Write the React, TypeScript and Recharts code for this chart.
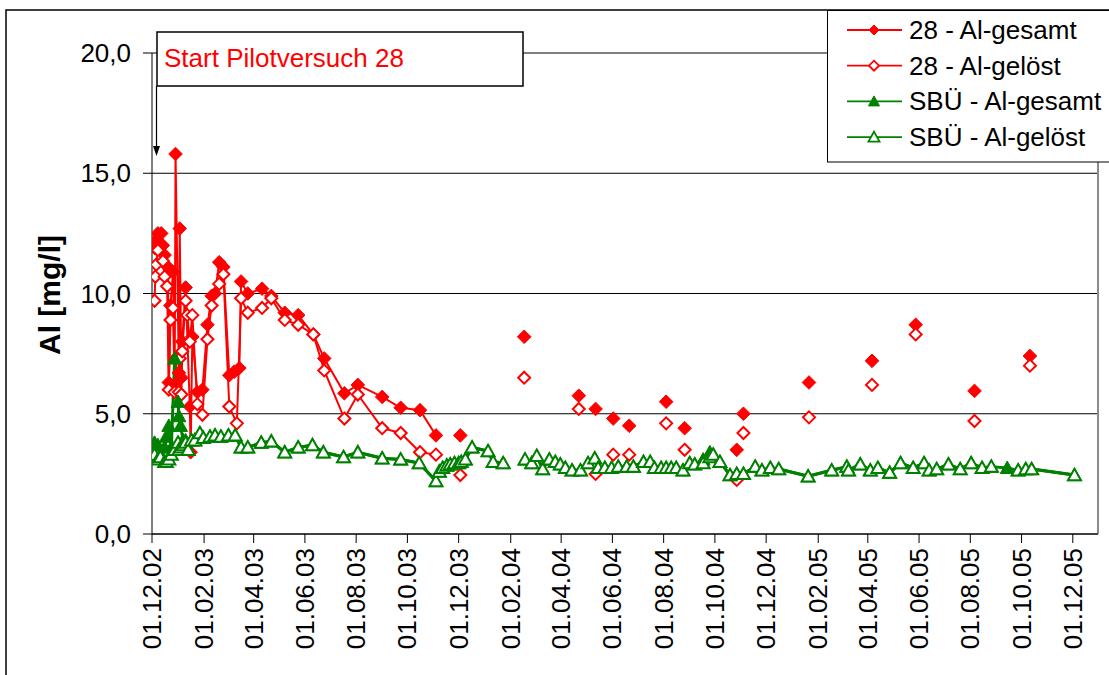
import React from 'react';
import { LineChart, Line, XAxis, YAxis, CartesianGrid, ReferenceLine } from 'recharts';

const FONT = '"Liberation Sans", Arial, Helvetica, sans-serif';
const RED = '#FF0000';
const GREEN = '#008000';

// ---------- axis ----------
const xTickLabels = [
  '01.12.02', '01.02.03', '01.04.03', '01.06.03', '01.08.03', '01.10.03', '01.12.03',
  '01.02.04', '01.04.04', '01.06.04', '01.08.04', '01.10.04', '01.12.04',
  '01.02.05', '01.04.05', '01.06.05', '01.08.05', '01.10.05', '01.12.05',
];
const xDomainLabels = ['01.12.02', '31.12.05'];
const yTicks = [0, 5, 10, 15, 20];

const seriesNames = ['28 - Al-gesamt', '28 - Al-gelöst', 'SBÜ - Al-gesamt', 'SBÜ - Al-gelöst'];
const annotationText = 'Start Pilotversuch 28';
const yAxisTitle = 'Al [mg/l]';

// ---------- 28 - Al-gesamt ----------
const r28GesamtDates = [
  '04.12.02', '05.12.02', '08.12.02', '12.12.02', '14.12.02', '16.12.02', '20.12.02', '21.12.02',
  '23.12.02', '26.12.02', '28.12.02', '29.12.02', '02.01.03', '03.01.03', '05.01.03', '06.01.03',
  '10.01.03', '15.01.03', '16.01.03', '18.01.03', '24.01.03', '30.01.03', '05.02.03', '10.02.03',
  '14.02.03', '19.02.03', '24.02.03', '03.03.03', '09.03.03', '15.03.03', '17.03.03', '25.03.03',
  '11.04.03', '22.04.03', '08.05.03', '24.05.03', '11.06.03', '24.06.03', '18.07.03', '03.08.03',
  '01.09.03', '23.09.03', '16.10.03', '04.11.03', '04.11.03', '03.12.03', '03.12.03',
  '17.02.04', '17.02.04', '22.04.04', '22.04.04', '12.05.04', '12.05.04', '02.06.04', '02.06.04',
  '21.06.04', '21.06.04', '04.08.04', '04.08.04', '26.08.04', '26.08.04', '27.10.04', '27.10.04',
  '04.11.04', '04.11.04', '21.01.05', '21.01.05', '06.04.05', '06.04.05', '28.05.05', '28.05.05',
  '06.08.05', '06.08.05', '11.10.05',
];
const r28GesamtValues: (number | null)[] = [
  11.9, 12.2, 12.5, 12.5, 12.0, 11.6, 11.1, 6.3,
  9.5, 10.9, 6.2, 15.8, 6.7, 12.7, 6.5, 8.0,
  10.25, 5.3, 3.4, 8.2, 5.9, 6.0, 8.7, 9.9,
  10.0, 11.3, 11.1, 6.6, 6.75, 6.9, 10.5, 10.0,
  10.2, 9.9, 9.2, 9.1, 8.3, 7.3, 5.85, 6.2,
  5.7, 5.25, 5.15, 4.1, null, 4.1, null,
  8.2, null, 5.75, null, 5.2, null, 4.8, null,
  4.5, null, 5.5, null, 4.4, null, 3.5, null,
  5.0, null, 6.3, null, 7.2, null, 8.7, null,
  5.95, null, 7.4,
];

// ---------- 28 - Al-gelöst ----------
const r28GeloestDates = [
  '04.12.02', '05.12.02', '06.12.02', '08.12.02', '14.12.02', '16.12.02', '19.12.02', '21.12.02',
  '23.12.02', '26.12.02', '28.12.02', '29.12.02', '02.01.03', '03.01.03', '05.01.03', '06.01.03',
  '10.01.03', '12.01.03', '15.01.03', '18.01.03', '24.01.03', '30.01.03', '05.02.03', '10.02.03',
  '19.02.03', '24.02.03', '03.03.03', '12.03.03', '17.03.03', '25.03.03', '11.04.03', '22.04.03',
  '08.05.03', '24.05.03', '11.06.03', '24.06.03', '18.07.03', '03.08.03', '01.09.03', '23.09.03',
  '16.10.03', '04.11.03', '04.11.03', '03.12.03', '03.12.03',
  '17.02.04', '17.02.04', '22.04.04', '22.04.04', '12.05.04', '12.05.04', '02.06.04', '02.06.04',
  '21.06.04', '21.06.04', '04.08.04', '04.08.04', '26.08.04', '26.08.04', '27.10.04', '27.10.04',
  '04.11.04', '04.11.04', '21.01.05', '21.01.05', '06.04.05', '06.04.05', '28.05.05', '28.05.05',
  '06.08.05', '06.08.05', '11.10.05',
];
const r28GeloestValues: (number | null)[] = [
  9.7, 10.7, 11.2, 11.8, 11.35, 10.7, 10.3, 6.0,
  8.9, 9.4, 5.9, 7.3, 5.9, 7.3, 5.8, 7.6,
  9.7, 9.1, 8.0, 9.1, 5.4, 4.96, 8.1, 9.5,
  10.4, 10.8, 5.3, 4.6, 9.8, 9.2, 9.4, 9.8,
  8.9, 8.7, 8.3, 6.8, 4.8, 5.8, 4.4, 4.2,
  3.4, 3.3, null, 2.45, null,
  6.5, null, 5.2, null, 2.5, null, 3.3, null,
  3.3, null, 4.6, null, 3.5, null, 2.25, null,
  4.2, null, 4.85, null, 6.2, null, 8.3, null,
  4.7, null, 7.0,
];

// ---------- SBÜ (shared sampling dates) ----------
const sbuDates = [
  '02.12.02', '04.12.02', '08.12.02', '11.12.02', '16.12.02', '18.12.02', '21.12.02', '24.12.02',
  '28.12.02', '01.01.03', '02.01.03', '04.01.03', '07.01.03', '10.01.03', '13.01.03', '17.01.03',
  '21.01.03', '27.01.03', '31.01.03', '08.02.03', '14.02.03', '21.02.03', '02.03.03', '10.03.03',
  '17.03.03', '25.03.03', '10.04.03', '22.04.03', '08.05.03', '24.05.03', '10.06.03', '23.06.03',
  '17.07.03', '03.08.03', '01.09.03', '23.09.03', '15.10.03', '04.11.03', '08.11.03', '12.11.03',
  '17.11.03', '21.11.03', '26.11.03', '01.12.03', '04.12.03', '09.12.03', '17.12.03', '05.01.04',
  '11.01.04', '23.01.04', '23.01.04', '18.02.04', '26.02.04', '03.03.04', '10.03.04', '18.03.04',
  '25.03.04', '31.03.04', '06.04.04', '14.04.04', '24.04.04', '03.05.04', '11.05.04', '15.05.04',
  '23.05.04', '31.05.04', '08.06.04', '18.06.04', '26.06.04', '08.07.04', '16.07.04', '21.07.04',
  '29.07.04', '04.08.04', '10.08.04', '16.08.04', '24.08.04', '01.09.04', '07.09.04', '17.09.04',
  '25.09.04', '29.09.04', '07.10.04', '19.10.04', '27.10.04', '04.11.04', '18.11.04', '26.11.04',
  '06.12.04', '16.12.04', '20.01.05', '17.02.05', '07.03.05', '09.03.05', '23.03.05', '04.04.05',
  '13.04.05', '27.04.05', '10.05.05', '25.05.05', '07.06.05', '13.06.05', '22.06.05', '06.07.05',
  '20.07.05', '02.08.05', '15.08.05', '26.08.05', '14.09.05', '27.09.05', '06.10.05', '13.10.05',
  '03.12.05',
];
const sbuGesamtValues: (number | null)[] = [
  3.15, 3.8, 3.7, 3.3, 3.6, 4.05, 4.5, 3.6,
  7.3, 5.5, 4.9, 4.5, 3.9, 3.9, 3.5, 3.9,
  3.9, 4.2, 4.0, 4.05, 4.1, 4.05, 4.1, 4.1,
  3.6, 3.6, 3.8, 3.85, 3.4, 3.6, 3.7, 3.4,
  3.2, 3.4, 3.15, 3.1, 2.95, 2.2, 2.6, 2.75,
  2.85, 2.9, 2.95, 2.95, 3.0, 3.1, 3.6, 3.45,
  3.0, 2.95, null, 3.1, 2.95, 3.25, 2.7, 3.1,
  3.0, 2.9, 2.75, 2.65, 2.65, 2.95, 3.15, 2.75,
  2.75, 2.75, 2.8, 2.8, 2.8, 3.0, 3.0, 2.75,
  2.75, 2.75, 2.75, 2.75, 2.65, 2.95, 2.9, 3.1,
  3.4, 3.3, 3.0, 2.45, 2.5, 2.5, 2.8, 2.65,
  2.75, 2.7, 2.4, 2.65, 2.8, 2.65, 2.9, 2.65,
  2.75, 2.55, 2.95, 2.75, 2.95, 2.65, 2.7, 2.9,
  2.7, 2.95, 2.75, 2.8, 2.75, 2.65, 2.7, 2.7,
  2.45,
];
const sbuGeloestValues: (number | null)[] = [
  3.3, 3.3, 3.1, 3.2, 3.0, 3.0, 3.1, 3.3,
  3.5, 3.8, 3.5, 3.6, 3.7, 3.8, 3.5, 3.9,
  3.9, 4.2, 4.0, 4.05, 4.1, 4.05, 4.1, 4.1,
  3.6, 3.6, 3.8, 3.85, 3.4, 3.6, 3.7, 3.4,
  3.2, 3.4, 3.15, 3.1, 2.95, 2.2, 2.6, 2.75,
  2.85, 2.9, 2.95, 2.95, 3.0, 3.1, 3.6, 3.45,
  3.0, 2.95, null, 3.1, 2.95, 3.25, 2.7, 3.1,
  3.0, 2.9, 2.75, 2.65, 2.65, 2.95, 3.15, 2.75,
  2.75, 2.75, 2.8, 2.8, 2.8, 3.0, 3.0, 2.75,
  2.75, 2.75, 2.75, 2.75, 2.65, 2.95, 2.9, 2.95,
  3.2, 3.3, 3.0, 2.45, 2.5, 2.5, 2.8, 2.65,
  2.75, 2.7, 2.4, 2.65, 2.8, 2.65, 2.9, 2.65,
  2.75, 2.55, 2.95, 2.75, 2.95, 2.65, 2.7, 2.9,
  2.7, 2.95, 2.75, 2.8, null, 2.65, 2.7, 2.7,
  2.45,
];

// ---------- helpers ----------
const toTime = (s: string) => {
  const [d, m, y] = s.split('.').map(Number);
  return Date.UTC(2000 + y, m - 1, d);
};
const build = (dates: string[], vals: (number | null)[]) =>
  dates.map((d, i) => ({ t: toTime(d), v: vals[i] }));

const xTicks = xTickLabels.map(toTime);
const xDomain = xDomainLabels.map(toTime);
const xLabelFor = (t: number) => {
  const i = xTicks.indexOf(t);
  return i >= 0 ? xTickLabels[i] : '';
};

const diamondPath = (cx: number, cy: number, s: number) =>
  `M${cx},${cy - s}L${cx + s},${cy}L${cx},${cy + s}L${cx - s},${cy}Z`;
const trianglePath = (cx: number, cy: number, w: number, h: number) =>
  `M${cx},${cy - h * 0.55}L${cx + w / 2},${cy + h * 0.45}L${cx - w / 2},${cy + h * 0.45}Z`;

const makeDot = (shape: 'diamond' | 'triangle', filled: boolean, color: string) => (props: any) => {
  const { cx, cy, index, value } = props;
  const k = `${shape}-${filled}-${index}`;
  if (cx == null || cy == null || value == null || (Array.isArray(value) && value[1] == null)) {
    return <g key={k} />;
  }
  const d =
    shape === 'diamond'
      ? diamondPath(cx, cy, filled ? 6.8 : 6.0)
      : trianglePath(cx, cy, filled ? 14 : 13, filled ? 12.5 : 11.5);
  return (
    <path
      key={k}
      d={d}
      fill={filled ? color : '#FFFFFF'}
      stroke={color}
      strokeWidth={filled ? 1 : 2}
      strokeLinejoin="miter"
    />
  );
};

const XTick = (props: any) => {
  const { x, y, payload } = props;
  return (
    <text
      x={x}
      y={y}
      transform={`rotate(-90, ${x}, ${y})`}
      textAnchor="end"
      dominantBaseline="central"
      fontSize={26}
      fontFamily={FONT}
      fill="#000"
    >
      {xLabelFor(payload.value)}
    </text>
  );
};

const seriesStyle = [
  { color: RED, shape: 'diamond' as const, filled: true, width: 2 },
  { color: RED, shape: 'diamond' as const, filled: false, width: 2 },
  { color: GREEN, shape: 'triangle' as const, filled: true, width: 3 },
  { color: GREEN, shape: 'triangle' as const, filled: false, width: 3 },
];

export default function App() {
  const seriesData = [
    build(r28GesamtDates, r28GesamtValues),
    build(r28GeloestDates, r28GeloestValues),
    build(sbuDates, sbuGesamtValues),
    build(sbuDates, sbuGeloestValues),
  ];

  return (
    <div
      style={{
        position: 'absolute',
        left: 0,
        top: 0,
        width: 1109,
        height: 675,
        overflow: 'hidden',
        background: '#fff',
        fontFamily: FONT,
      }}
    >
      <LineChart
        width={1109}
        height={675}
        margin={{ top: 53, right: 11, bottom: 0, left: 0 }}
        style={{ position: 'absolute', left: 0, top: 0 }}
      >
        <CartesianGrid horizontal vertical={false} stroke="#000" strokeWidth={1} />
        <XAxis
          dataKey="t"
          type="number"
          domain={xDomain}
          ticks={xTicks}
          interval={0}
          allowDataOverflow
          height={141}
          tickSize={9}
          tickMargin={5}
          tick={<XTick />}
          axisLine={{ stroke: '#000', strokeWidth: 1 }}
          tickLine={{ stroke: '#000', strokeWidth: 1 }}
        />
        <YAxis
          type="number"
          domain={[0, 20]}
          ticks={yTicks}
          interval={0}
          allowDataOverflow
          width={152}
          tickSize={9}
          tickMargin={12}
          tickFormatter={(v: number) => v.toFixed(1).replace('.', ',')}
          tick={{ fontSize: 26, fontFamily: FONT, fill: '#000' }}
          axisLine={{ stroke: '#000', strokeWidth: 1 }}
          tickLine={{ stroke: '#000', strokeWidth: 1 }}
        />
        <ReferenceLine x={xDomain[1]} stroke="#8c8c8c" strokeWidth={2} />
        {seriesData.map((data, i) => (
          <Line
            key={seriesNames[i]}
            data={data}
            dataKey="v"
            name={seriesNames[i]}
            type="linear"
            stroke={seriesStyle[i].color}
            strokeWidth={seriesStyle[i].width}
            connectNulls={false}
            dot={makeDot(seriesStyle[i].shape, seriesStyle[i].filled, seriesStyle[i].color)}
            activeDot={false}
            isAnimationActive={false}
          />
        ))}
      </LineChart>

      <svg
        width={1109}
        height={675}
        style={{ position: 'absolute', left: 0, top: 0, pointerEvents: 'none' }}
      >
        {/* outer chart frame */}
        <path d="M6,680 L6,10 L1115,10" fill="none" stroke="#000" strokeWidth={1.5} />

        {/* y axis title */}
        <text
          x={49}
          y={295}
          transform="rotate(-90, 49, 295)"
          textAnchor="middle"
          dominantBaseline="central"
          fontSize={30}
          fontWeight="bold"
          fontFamily={FONT}
          fill="#000"
        >
          {yAxisTitle}
        </text>

        {/* annotation */}
        <rect x={157} y={32} width={366} height={54} fill="#fff" stroke="#000" strokeWidth={1.5} />
        <text x={164} y={67} fontSize={26} fontFamily={FONT} fill={RED}>
          {annotationText}
        </text>
        <line x1={156.5} y1={86} x2={156.5} y2={147} stroke="#000" strokeWidth={1.2} />
        <path d="M153,146 L160,146 L156.5,156 Z" fill="#000" />

        {/* legend */}
        <rect x={827.5} y={10.5} width={300} height={151.5} fill="#fff" stroke="#000" strokeWidth={1} />
        {seriesNames.map((name, i) => {
          const cy = 30 + i * 35.7;
          const st = seriesStyle[i];
          const mk =
            st.shape === 'diamond'
              ? diamondPath(874, cy, 5)
              : trianglePath(874, cy, 11, 10);
          return (
            <g key={name}>
              <line x1={847} y1={cy} x2={902} y2={cy} stroke={st.color} strokeWidth={1.8} />
              <path d={mk} fill={st.filled ? st.color : '#fff'} stroke={st.color} strokeWidth={st.filled ? 1 : 1.8} />
              <text x={909} y={cy} dominantBaseline="central" fontSize={26} fontFamily={FONT} fill="#000">
                {name}
              </text>
            </g>
          );
        })}
      </svg>
    </div>
  );
}
